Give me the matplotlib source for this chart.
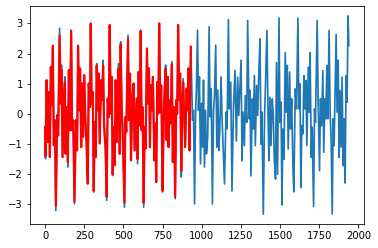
import matplotlib
matplotlib.use("Agg")
import matplotlib.pyplot as plt

# first part (0..930): actual series and the red overlay
t_a = [0, 2, 9, 17, 24, 30, 36, 43, 49, 55, 62, 68, 77, 83, 92, 100, 104, 111, 121, 126,
       130, 138, 145, 151, 157, 166, 172, 179, 187, 196, 204, 210, 217, 223, 230, 236, 242, 249, 257, 264,
       272, 278, 287, 291, 297, 304, 310, 317, 323, 329, 336, 342, 348, 357, 363, 370, 376, 385, 393, 399,
       406, 412, 419, 425, 431, 438, 444, 450, 457, 463, 469, 476, 482, 489, 495, 506, 512, 518, 529, 535,
       542, 548, 557, 565, 571, 584, 590, 597, 603, 610, 616, 622, 629, 635, 641, 650, 656, 663, 669, 675,
       682, 688, 697, 703, 709, 716, 722, 728, 735, 741, 750, 756, 762, 769, 775, 782, 788, 794, 801, 809,
       815, 822, 830, 837, 843, 849, 856, 862, 869, 875, 881, 894, 903, 909, 915, 922, 930]
blue_a = [-0.43, -1.48, 1.12, -0.93, 0.73, -1.43, 1.56, 0.29, 2.28, -1.04, -0.21, -3.2, -0.04, -0.71, 2.84, 0.35, 1.62, -1.43, 0.68, 1.23,
          -1.32, 0.23, -1.76, 1.45, -0.54, 2.78, -0.54, -0.21, -2.98, -0.21, -1.21, 2.28, 0.12, 1.51, -1.1, 1.01, -0.76, 1.29, -0.21, -0.98,
          -2.31, 1.01, 0.23, 3.0, 0.35, 0.73, -2.59, -0.26, -1.43, 1.67, 0.12, 1.34, -0.98, 1.12, 0.46, 1.78, -0.38, -1.1, -2.87, 0.51,
          -0.1, 2.95, 0.01, 1.23, -2.04, -0.43, -1.7, 1.12, -0.93, 0.73, 1.67, -1.32, 2.39, 0.12, -0.65, -3.09, -0.1, -0.6, 2.61, -0.21,
          1.34, -1.54, 0.56, 1.01, -1.21, 0.51, -1.65, 1.4, -0.38, 2.78, -0.54, 0.23, -3.09, -0.43, -1.15, 2.17, 0.35, 1.51, -1.1, 0.95,
          0.12, 1.23, -1.54, -0.32, -2.26, 1.06, 0.01, 3.0, 0.07, 0.95, -2.59, -0.43, 0.73, 1.62, -0.87, 1.23, -1.1, 0.46, -0.32, 1.73,
          -1.59, 0.23, -2.81, 0.46, 0.01, 2.95, 0.46, 1.34, -2.09, 0.12, 1.17, -1.1, 0.84, 0.12, 1.51, -1.21, 2.23]
red_a = [-0.43, -1.4, 1.12, -0.93, 0.73, -1.43, 1.56, 0.29, 2.25, -1.04, -0.21, -3.05, -0.04, -0.71, 2.6, 0.35, 1.45, -1.43, 0.68, 1.05,
         -1.32, 0.23, -1.6, 1.45, -0.54, 2.75, -0.54, -0.21, -2.9, -0.21, -1.21, 2.25, 0.12, 1.51, -1.1, 1.01, -0.76, 1.29, -0.21, -0.98,
         -2.31, 1.01, 0.23, 3.0, 0.35, 0.73, -2.55, -0.26, -1.43, 1.6, 0.12, 1.34, -0.98, 1.12, 0.46, 1.6, -0.38, -1.1, -2.75, 0.51,
         -0.1, 2.95, 0.01, 1.23, -2.0, -0.43, -1.7, 1.12, -0.93, 0.73, 1.5, -1.32, 2.3, 0.12, -0.65, -2.95, -0.1, -0.6, 2.5, -0.21,
         1.34, -1.54, 0.56, 1.01, -1.21, 0.51, -1.5, 1.4, -0.38, 2.75, -0.54, 0.23, -2.95, -0.43, -1.15, 2.17, 0.35, 1.51, -1.1, 0.95,
         0.12, 1.23, -1.54, -0.32, -2.26, 1.06, 0.01, 3.0, 0.07, 0.95, -2.55, -0.43, 0.73, 1.5, -0.87, 1.23, -1.1, 0.46, -0.32, 1.65,
         -1.59, 0.23, -2.75, 0.46, 0.01, 2.95, 0.46, 1.34, -1.9, 0.12, 1.05, -1.1, 0.84, 0.12, 1.51, -1.21, 2.23]

# rest of the actual series (blue only)
t_b = [941, 947, 954, 960, 966, 973, 979, 985, 992, 998, 1005, 1011, 1017, 1024, 1030, 1038, 1047, 1053, 1060, 1068,
       1075, 1081, 1089, 1096, 1102, 1109, 1115, 1123, 1130, 1145, 1155, 1162, 1170, 1176, 1185, 1193, 1202, 1212, 1221, 1229,
       1236, 1251, 1257, 1263, 1272, 1278, 1287, 1293, 1302, 1308, 1314, 1323, 1329, 1336, 1342, 1350, 1357, 1365, 1372, 1378,
       1384, 1393, 1401, 1408, 1416, 1423, 1429, 1435, 1442, 1450, 1457, 1463, 1471, 1477, 1484, 1493, 1499, 1506, 1512, 1518,
       1525, 1533, 1540, 1546, 1552, 1561, 1567, 1574, 1582, 1588, 1597, 1605, 1614, 1620, 1627, 1633, 1639, 1646, 1652, 1658,
       1665, 1671, 1680, 1686, 1692, 1699, 1705, 1714, 1720, 1726, 1737, 1743, 1752, 1758, 1765, 1773, 1779, 1786, 1792, 1799,
       1805, 1813, 1820, 1826, 1833, 1839, 1845, 1858, 1864, 1871, 1877, 1883, 1890, 1896, 1903, 1909, 1915, 1922, 1928, 1934,
       1939]
blue_b = [-0.21, 0.12, -2.98, -0.1, 0.9, 2.78, 0.12, 1.23, -1.65, 0.35, -1.1, 1.12, -1.76, 0.12, -1.32, -0.76, 2.89, -0.1, 0.84, -2.98,
          0.12, 0.6, 2.28, -1.1, 0.79, -1.21, -0.54, 1.23, -0.21, -2.32, 0.06, -0.49, 3.13, 0.17, 1.05, -2.55, 0.17, 1.44, -0.9, 1.22,
          -0.05, 1.78, -1.55, 0.06, -1.05, 0.61, -0.28, 3.1, -0.16, 0.78, -2.05, 0.5, -0.5, 1.27, -1.05, 0.94, -0.05, 1.5, 2.49, -1.0,
          0.06, -3.32, -0.05, 1.16, 2.77, 0.06, -1.55, 0.55, -1.05, 0.5, -0.05, -1.5, -2.16, 1.7, -2.0, 3.18, -0.28, 0.39, -3.02, -0.5,
          -1.5, 2.03, 0.06, 1.61, -1.16, 1.39, -0.5, 0.5, -1.72, -2.58, 0.83, 0.17, 3.18, 0.17, 1.0, -2.43, -0.39, -0.66, 1.27, 0.17,
          1.11, -1.05, 1.55, 0.06, 2.03, -1.44, -0.44, -3.07, 0.17, -0.28, 3.1, 0.5, -1.88, 0.5, -0.39, 1.44, -1.27, 0.5, -0.16, 1.61,
          -0.16, 2.77, -0.05, -0.83, -3.32, -0.16, -1.05, 2.63, 0.06, 1.78, -1.44, 0.78, -1.1, 1.22, -1.72, -0.16, -2.29, 1.27, 0.39, 3.25,
          2.27]

fig = plt.figure(figsize=(378 / 72, 248 / 72), dpi=72)
ax = fig.add_axes([30 / 378, 24 / 248, 334 / 378, 218 / 248])

ax.plot(t_a + t_b, blue_a + blue_b, color="#1f77b4", lw=1.7)
ax.plot(t_a, red_a, color="red", lw=2.2)

fig.savefig("out.png", dpi=72)
